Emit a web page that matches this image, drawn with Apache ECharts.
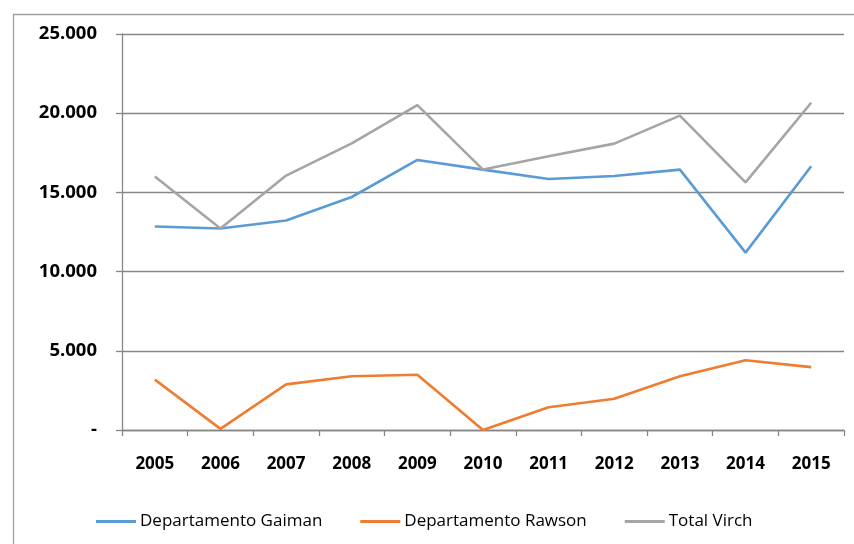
<!DOCTYPE html>
<html>
<head>
<meta charset="utf-8">
<script src="https://cdn.jsdelivr.net/npm/echarts@6/dist/echarts.min.js"></script>
<style>html,body{margin:0;padding:0;background:#fff}#c{width:854px;height:544px}</style>
</head>
<body>
<div id="c"></div>
<script>
const years = ['2005','2006','2007','2008','2009','2010','2011','2012','2013','2014','2015'];
const gaiman = [12850, 12720, 13230, 14710, 17050, 16440, 15850, 16040, 16440, 11200, 16650];
const rawson = [3180, 70, 2880, 3390, 3490, 0, 1440, 1970, 3390, 4400, 3970];
const totalVirch = [16010, 12720, 16060, 18100, 20510, 16440, 17280, 18080, 19850, 15630, 20660];
const seriesNames = ['Departamento Gaiman', 'Departamento Rawson', 'Total Virch'];
const colors = ['#5B9BD5', '#ED7D31', '#A5A5A5'];

function fmt(v) {
  if (v === 0) return '-';
  return String(Math.round(v)).replace(/\B(?=(\d{3})+(?!\d))/g, '.');
}

const chart = echarts.init(document.getElementById('c'), null, {renderer: 'canvas'});
const axisGray = '#868686';
const font = '"Open Sans", "Liberation Sans", sans-serif';
chart.setOption({
  animation: false,
  color: colors,
  graphic: [{
    type: 'rect', left: 11, top: 12, silent: true,
    shape: {x: 0, y: 0, width: 900, height: 600},
    style: {fill: 'none', stroke: '#A0A0A0', lineWidth: 1.3}
  }],
  grid: {left: 122, right: 10, top: 34, bottom: 114, containLabel: false},
  legend: {
    left: 91, top: 508,
    icon: 'rect', itemWidth: 40, itemHeight: 3, itemGap: 38,
    textStyle: {fontFamily: font, fontSize: 17, color: '#000', padding: [0, 0, 0, -1]},
    data: seriesNames
  },
  xAxis: {
    type: 'category', data: years, boundaryGap: true,
    axisLine: {show: true, lineStyle: {color: axisGray, width: 1.3}},
    axisTick: {show: true, length: 6, inside: false, lineStyle: {color: axisGray, width: 1.3}},
    axisLabel: {margin: 26, fontFamily: font, fontWeight: 'bold', fontSize: 17, color: '#000'},
    splitLine: {show: false}
  },
  yAxis: {
    type: 'value', min: 0, max: 25000, interval: 5000,
    axisLine: {show: true, lineStyle: {color: axisGray, width: 1.3}},
    axisTick: {show: true, length: 6, lineStyle: {color: axisGray, width: 1.3}},
    axisLabel: {margin: 25, fontFamily: font, fontWeight: 'bold', fontSize: 18.5, color: '#000', formatter: fmt},
    splitLine: {show: true, lineStyle: {color: axisGray, width: 1.3}}
  },
  series: [
    {name: seriesNames[0], type: 'line', data: gaiman, symbol: 'none', lineStyle: {width: 2.6, color: colors[0]}},
    {name: seriesNames[1], type: 'line', data: rawson, symbol: 'none', lineStyle: {width: 2.6, color: colors[1]}},
    {name: seriesNames[2], type: 'line', data: totalVirch, symbol: 'none', lineStyle: {width: 2.6, color: colors[2]}}
  ]
});
</script>
</body>
</html>
